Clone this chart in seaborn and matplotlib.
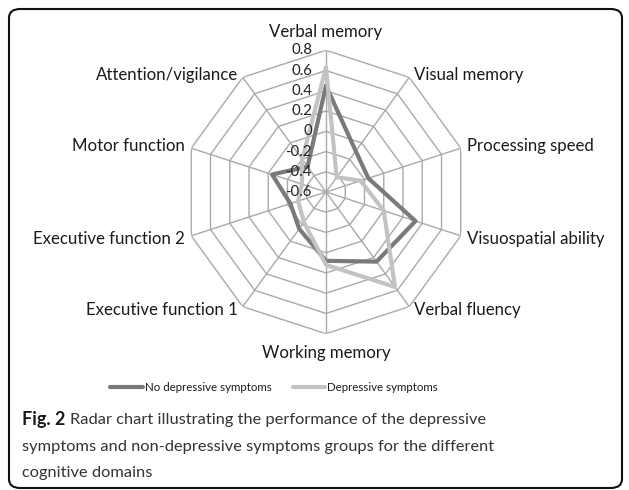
import numpy as np
import pandas as pd
import matplotlib
matplotlib.use("Agg")
import matplotlib.pyplot as plt
import matplotlib.transforms as mtrans
from matplotlib.patches import FancyBboxPatch
import seaborn as sns

domains = ["Verbal memory", "Visual memory", "Processing speed", "Visuospatial ability",
           "Verbal fluency", "Working memory", "Executive function 1", "Executive function 2",
           "Motor function", "Attention/vigilance"]
no_dep = [0.45, -0.10, -0.16, 0.33, 0.25, 0.08, -0.15, -0.23, -0.04, -0.29]
dep = [0.63, -0.42, -0.24, 0.00, 0.56, 0.12, -0.23, -0.31, -0.35, -0.20]
ring_ticks = [-0.6, -0.4, -0.2, 0, 0.2, 0.4, 0.6, 0.8]
ring_labels = ["-0.6", "-0.4", "-0.2", "0", "0.2", "0.4", "0.6", "0.8"]
series_names = ["No depressive symptoms", "Depressive symptoms"]
series_colors = ["#7a7a7a", "#c3c3c3"]

sns.set_theme(style="white")
plt.rcParams["font.family"] = ["Lato", "DejaVu Sans"]

W, H = 629, 490
fig = plt.figure(figsize=(W / 100, H / 100), dpi=100)

cx, cy, R = 326, 192, 141.7
ax = fig.add_axes([(cx - R) / W, 1 - (cy + R) / H, 2 * R / W, 2 * R / H], projection="polar")
ax.set_theta_zero_location("N")
ax.set_theta_direction(-1)
ax.set_ylim(ring_ticks[0], ring_ticks[-1])
ax.grid(False)
ax.spines["polar"].set_visible(False)
ax.set_xticks([])
ax.set_yticks([])
ax.patch.set_alpha(0)

n = len(domains)
theta = np.linspace(0, 2 * np.pi, n, endpoint=False)
theta_closed = np.append(theta, theta[0] + 2 * np.pi)

grid_color = "#a9a9a9"
for r in ring_ticks[1:]:
    ax.plot(theta_closed, [r] * (n + 1), color=grid_color, lw=1.0, zorder=1)
for t in theta:
    ax.plot([t, t], [ring_ticks[0], ring_ticks[-1]], color=grid_color, lw=1.0, zorder=1)

rows = []
for name, vals in zip(series_names, [no_dep, dep]):
    v = list(vals) + [vals[0]]
    for t, val in zip(theta_closed, v):
        rows.append({"theta": t, "value": val, "group": name})
df = pd.DataFrame(rows)
for name, col in zip(series_names, series_colors):
    sub = df[df["group"] == name]
    sns.lineplot(data=sub, x="theta", y="value", sort=False, estimator=None,
                 color=col, lw=3, ax=ax, zorder=3)
ax.set_xlabel("")
ax.set_ylabel("")
ax.set_ylim(ring_ticks[0], ring_ticks[-1])

# radial tick labels
off = mtrans.offset_copy(ax.transData, fig=fig, x=-14 * 0.72, y=0, units="points")
for r, lab in zip(ring_ticks, ring_labels):
    ax.text(0, r, lab, transform=off, ha="right", va="center", fontsize=10.8,
            color="#222222", zorder=4)

# category labels
for t, lab in zip(theta, domains):
    s, c = np.sin(t), np.cos(t)
    if abs(s) < 1e-6:
        ha = "center"
        dx, dy = 0, (18 if c > 0 else -19)
    else:
        ha = "left" if s > 0 else "right"
        dx = 5 if s > 0 else -5
        dy = 2 if c > 0 else -3
        if abs(s) > 0.9:
            dx = 6 if s > 0 else -6
    tr = mtrans.offset_copy(ax.transData, fig=fig, x=dx * 0.72, y=dy * 0.72, units="points")
    ax.text(t, ring_ticks[-1], lab, transform=tr, ha=ha, va="center", fontsize=12.1,
            color="#1a1a1a", clip_on=False)

# legend drawn in figure
legend_y = 1 - 387 / H
fig.lines.append(plt.Line2D([110 / W, 143 / W], [legend_y, legend_y], color=series_colors[0],
                            lw=3, transform=fig.transFigure))
fig.text(145 / W, legend_y, series_names[0], ha="left", va="center", fontsize=8.3, color="#1a1a1a")
fig.lines.append(plt.Line2D([293 / W, 325 / W], [legend_y, legend_y], color=series_colors[1],
                            lw=3, transform=fig.transFigure))
fig.text(327 / W, legend_y, series_names[1], ha="left", va="center", fontsize=8.3, color="#1a1a1a")

# rounded frame
box = FancyBboxPatch((9 / W, 2 / H), 613 / W, 479 / H,
                     boxstyle="round,pad=0,rounding_size=0.018",
                     transform=fig.transFigure, fill=False, ec="#111111", lw=1.5)
fig.patches.append(box)

# caption
cap_font = ["Lato", "DejaVu Sans"]
cap_size = 11.8
cap_lines = ["Radar chart illustrating the performance of the depressive",
             "symptoms and non-depressive symptoms groups for the different",
             "cognitive domains"]
cap_y = [420, 447, 473]
fig.canvas.draw()
renderer = fig.canvas.get_renderer()
bold = fig.text(22 / W, 1 - cap_y[0] / H, "Fig. 2", ha="left", va="center", fontsize=cap_size + 1.2,
                fontweight="bold", family=cap_font, color="#1a1a1a")
bb = bold.get_window_extent(renderer)
fig.text((bb.x1 + 5) / W, 1 - cap_y[0] / H, cap_lines[0], ha="left", va="center", fontsize=cap_size,
         family=cap_font, color="#333333")
for line, yy in zip(cap_lines[1:], cap_y[1:]):
    fig.text(22 / W, 1 - yy / H, line, ha="left", va="center", fontsize=cap_size,
             family=cap_font, color="#333333")

fig.savefig("out.png", dpi=100)
